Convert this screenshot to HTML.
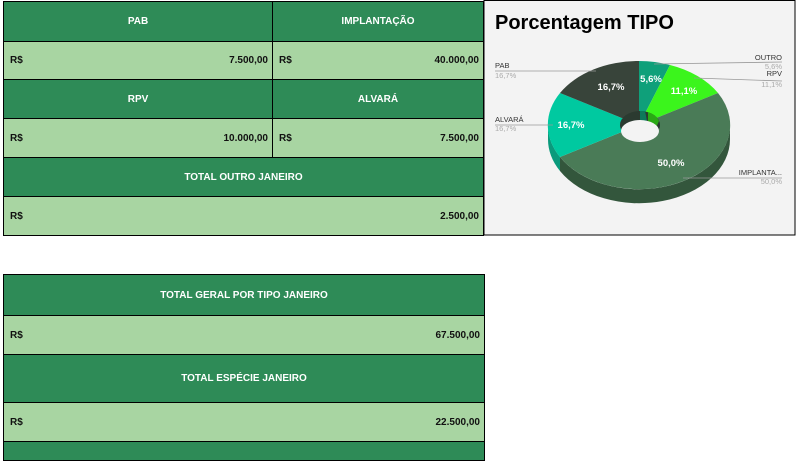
<!DOCTYPE html>
<html><head><meta charset="utf-8"><style>
body{margin:0;width:800px;height:450px;background:#fff;position:relative;overflow:hidden;font-family:"Liberation Sans",sans-serif;font-weight:bold;font-size:10px}
.c{position:absolute;box-sizing:border-box;border:1px solid #000;display:flex;align-items:center}
.h{background:#2e8b57;color:#fff;justify-content:center}
.v{background:#a8d5a2;color:#111;justify-content:space-between;padding:0 4px 0 6px}
svg text{font-weight:normal}
svg .b{font-weight:bold}
</style></head><body>
<div class="c h" style="left:3px;top:1px;width:270px;height:41px">PAB</div>
<div class="c h" style="left:272px;top:1px;width:212px;height:41px">IMPLANTAÇÃO</div>
<div class="c v" style="left:3px;top:41px;width:270px;height:39px"><span>R$</span><span>7.500,00</span></div>
<div class="c v" style="left:272px;top:41px;width:212px;height:39px"><span>R$</span><span>40.000,00</span></div>
<div class="c h" style="left:3px;top:79px;width:270px;height:40px">RPV</div>
<div class="c h" style="left:272px;top:79px;width:212px;height:40px">ALVARÁ</div>
<div class="c v" style="left:3px;top:118px;width:270px;height:40px"><span>R$</span><span>10.000,00</span></div>
<div class="c v" style="left:272px;top:118px;width:212px;height:40px"><span>R$</span><span>7.500,00</span></div>
<div class="c h" style="left:3px;top:157px;width:481px;height:40px">TOTAL OUTRO JANEIRO</div>
<div class="c v" style="left:3px;top:196px;width:481px;height:40px"><span>R$</span><span>2.500,00</span></div>

<div class="c h" style="left:3px;top:274px;width:482px;height:42px">TOTAL GERAL POR TIPO JANEIRO</div>
<div class="c v" style="left:3px;top:315px;width:482px;height:40px"><span>R$</span><span>67.500,00</span></div>
<div class="c h" style="left:3px;top:354px;width:482px;height:49px">TOTAL ESPÉCIE JANEIRO</div>
<div class="c v" style="left:3px;top:402px;width:482px;height:40px"><span>R$</span><span>22.500,00</span></div>
<div class="c h" style="left:3px;top:441px;width:482px;height:20px"></div>

<svg style="position:absolute;left:483px;top:0" width="313" height="236" viewBox="483 0 313 236">
<rect x="484" y="0.5" width="311" height="234.5" fill="#f3f3f3" stroke="#000"/>
<text class="b" x="495" y="29" font-size="20" fill="#000" font-family="Liberation Sans,sans-serif">Porcentagem TIPO</text>
<path d="M730,125 A91,64 0 0 1 560,157 L560,171 A91,64 0 0 0 730,139 Z" fill="#33563c"/>
<path d="M560,157 A91,64 0 0 1 548,125 L548,139 A91,64 0 0 0 560,171 Z" fill="#0a9a7c"/>
<path d="M639,125 L639,61 A91,64 0 0 1 670,65 Z" fill="#0fa07a"/>
<path d="M639,125 L670,65 A91,64 0 0 1 718,93 Z" fill="#3bf51c"/>
<path d="M639,125 L718,93 A91,64 0 0 1 560,157 Z" fill="#4a7b57"/>
<path d="M639,125 L560,157 A91,64 0 0 1 560,93 Z" fill="#00c9a0"/>
<path d="M639,125 L560,93 A91,64 0 0 1 639,61 Z" fill="#38443a"/>
<ellipse cx="640" cy="125" rx="20" ry="14" fill="#2b3a30"/>
<path d="M640,111 L645,111 L648,126 L640,127Z" fill="#0d7a5a"/>
<path d="M648,112 A20,14 0 0 1 659,121 L655,130 L648,126Z" fill="#2aa815"/>
<ellipse cx="640" cy="131" rx="19" ry="11" fill="#f3f3f3"/>
<g fill="#fff" font-size="9.5" text-anchor="middle" font-family="Liberation Sans,sans-serif">
<text class="b" x="651" y="82">5,6%</text><text class="b" x="684" y="94">11,1%</text><text class="b" x="611" y="90">16,7%</text>
<text class="b" x="571" y="128">16,7%</text><text class="b" x="671" y="166">50,0%</text></g>
<g stroke="#999" stroke-width="0.8" fill="none">
<polyline points="495,71 545,71 596,71"/><polyline points="495,125 553,125"/>
<polyline points="654,64 782,62"/><polyline points="694,78 782,81"/><polyline points="683,178 782,178"/></g>
<g font-size="7.5" font-family="Liberation Sans,sans-serif">
<text x="495" y="68" fill="#333">PAB</text><text x="495" y="78" fill="#aaa">16,7%</text>
<text x="495" y="122" fill="#333">ALVARÁ</text><text x="495" y="131" fill="#aaa">16,7%</text>
<g text-anchor="end"><text x="782" y="60" fill="#333">OUTRO</text><text x="782" y="69" fill="#aaa">5,6%</text>
<text x="782" y="76" fill="#333">RPV</text><text x="782" y="87" fill="#aaa">11,1%</text>
<text x="782" y="175" fill="#333">IMPLANTA...</text><text x="782" y="184" fill="#aaa">50,0%</text></g></g>
</svg>
</body></html>
